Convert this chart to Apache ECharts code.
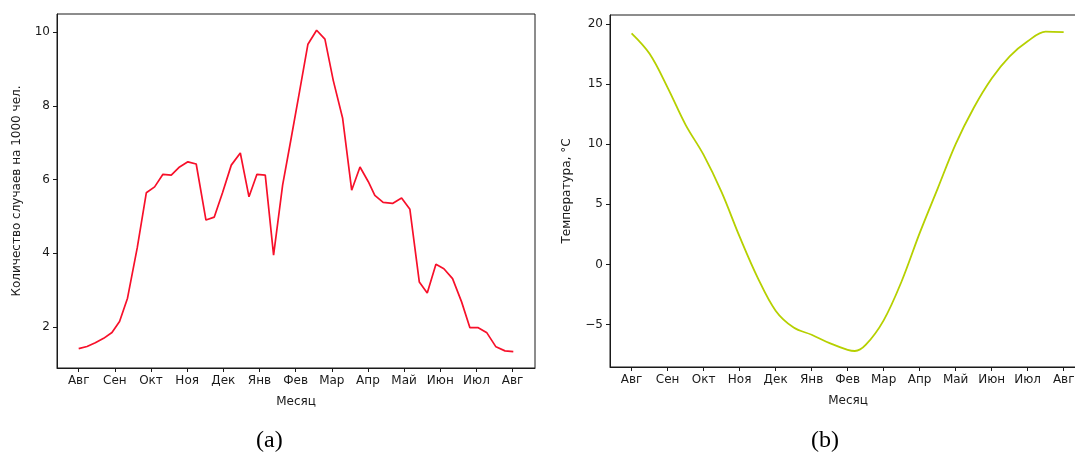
<!DOCTYPE html>
<html>
<head>
<meta charset="utf-8">
<script src="https://cdn.jsdelivr.net/npm/echarts@6/dist/echarts.min.js"></script>
<style>
  html, body { margin: 0; padding: 0; background: #ffffff; }
  #chart { width: 1075px; height: 453px; }
</style>
</head>
<body>
<div id="chart"></div>
<script>
// Month tick positions (0 = August) and their labels
const monthTicks = [0, 1, 2, 3, 4, 5, 6, 7, 8, 9, 10, 11, 12];
const monthLabels = ['Авг', 'Сен', 'Окт', 'Ноя', 'Дек', 'Янв', 'Фев', 'Мар', 'Апр', 'Май', 'Июн', 'Июл', 'Авг'];

// (a) weekly incidence, cases per 1000 people
const caseMonth = [0.00, 0.23, 0.46, 0.69, 0.92, 1.13, 1.35, 1.62, 1.87, 2.10, 2.33, 2.56, 2.79, 3.02, 3.25,
  3.52, 3.75, 3.98, 4.22, 4.47, 4.71, 4.93, 5.16, 5.39, 5.64, 5.88, 6.11, 6.34, 6.58, 6.81, 7.04, 7.30,
  7.55, 7.78, 8.01, 8.19, 8.42, 8.68, 8.93, 9.16, 9.42, 9.64, 9.88, 10.10, 10.34, 10.59, 10.82, 11.05,
  11.29, 11.54, 11.79, 12.02];
const caseRate = [1.41, 1.47, 1.57, 1.69, 1.85, 2.15, 2.78, 4.15, 5.64, 5.80, 6.14, 6.12, 6.34, 6.48, 6.42,
  4.90, 4.98, 5.65, 6.39, 6.72, 5.53, 6.14, 6.12, 3.95, 5.85, 7.14, 8.40, 9.67, 10.05, 9.81, 8.69, 7.66,
  5.71, 6.34, 5.94, 5.57, 5.38, 5.35, 5.50, 5.19, 3.22, 2.92, 3.70, 3.58, 3.31, 2.68, 1.98, 1.98,
  1.84, 1.46, 1.35, 1.33];
const caseTicks = [2, 4, 6, 8, 10];

// (b) mean air temperature, °C
const tempMonth = [0, 0.5, 1, 1.5, 2, 2.5, 3, 3.5, 4, 4.5, 5, 5.5, 6, 6.2, 6.5, 7, 7.5, 8, 8.5, 9, 9.5, 10, 10.5, 11, 11.5, 12];
const tempValue = [19.2, 17.5, 14.7, 11.6, 9.1, 6.0, 2.3, -1.1, -3.85, -5.25, -5.85, -6.55, -7.1, -7.2, -6.7,
  -4.65, -1.4, 2.6, 6.3, 10.0, 13.0, 15.45, 17.3, 18.55, 19.35, 19.3];
const tempTicks = [-5, 0, 5, 10, 15, 20];

const FONT = 'DejaVu Sans';
const INK = '#1a1a1a';
const minusSign = v => String(v).replace('-', '\u2212');

function xAxisFor(gridIndex) {
  return {
    type: 'value', gridIndex, min: -0.6, max: 12.62,
    name: 'Месяц', nameLocation: 'middle', nameGap: 28,
    nameTextStyle: { fontFamily: FONT, fontSize: 12, color: INK },
    axisLine: { show: true, onZero: false, lineStyle: { color: INK, width: 1 } },
    splitLine: { show: false },
    axisTick: { show: true, length: 4, customValues: monthTicks, lineStyle: { color: INK, width: 1 } },
    axisLabel: {
      customValues: monthTicks, margin: 7,
      fontFamily: FONT, fontSize: 12, color: INK,
      formatter: v => monthLabels[Math.round(v)]
    }
  };
}

function yAxisFor(gridIndex, min, max, ticks, name, gap) {
  return {
    type: 'value', gridIndex, min, max,
    name, nameLocation: 'middle', nameGap: gap, nameRotate: 90,
    nameTextStyle: { fontFamily: FONT, fontSize: 12, color: INK },
    axisLine: { show: true, onZero: false, lineStyle: { color: INK, width: 1 } },
    splitLine: { show: false },
    axisTick: { show: true, length: 4, customValues: ticks, lineStyle: { color: INK, width: 1 } },
    axisLabel: {
      customValues: ticks, margin: 7,
      fontFamily: FONT, fontSize: 12, color: INK,
      formatter: minusSign
    }
  };
}

const chart = echarts.init(document.getElementById('chart'), null, { renderer: 'canvas' });
chart.setOption({
  backgroundColor: '#ffffff',
  animation: false,
  grid: [
    { left: 57, top: 14, width: 478, height: 354, outerBoundsMode: 'none', containLabel: false,
      show: true, borderColor: INK, borderWidth: 1, backgroundColor: 'transparent' },
    // panel (b) runs past the right edge of the page
    { left: 610, top: 15, width: 476, height: 352, outerBoundsMode: 'none', containLabel: false,
      show: true, borderColor: INK, borderWidth: 1, backgroundColor: 'transparent' }
  ],
  xAxis: [xAxisFor(0), xAxisFor(1)],
  yAxis: [
    yAxisFor(0, 0.886, 10.49, caseTicks, 'Количество случаев на 1000 чел.', 34),
    yAxisFor(1, -8.53, 20.73, tempTicks, 'Температура, °C', 37)
  ],
  series: [
    {
      type: 'line', xAxisIndex: 0, yAxisIndex: 0,
      data: caseMonth.map((m, i) => [m, caseRate[i]]),
      showSymbol: false, smooth: false,
      lineStyle: { color: '#f7102a', width: 1.7 }
    },
    {
      type: 'line', xAxisIndex: 1, yAxisIndex: 1,
      data: tempMonth.map((m, i) => [m, tempValue[i]]),
      showSymbol: false, smooth: 0.35,
      lineStyle: { color: '#b6d000', width: 1.8 }
    }
  ],
  graphic: [
    { type: 'text', left: 272 - 16, top: 429, style: { text: '(a)', fontFamily: 'Liberation Serif', fontSize: 24, fill: '#000' } },
    { type: 'text', left: 827 - 16, top: 429, style: { text: '(b)', fontFamily: 'Liberation Serif', fontSize: 24, fill: '#000' } }
  ]
});
</script>
</body>
</html>
